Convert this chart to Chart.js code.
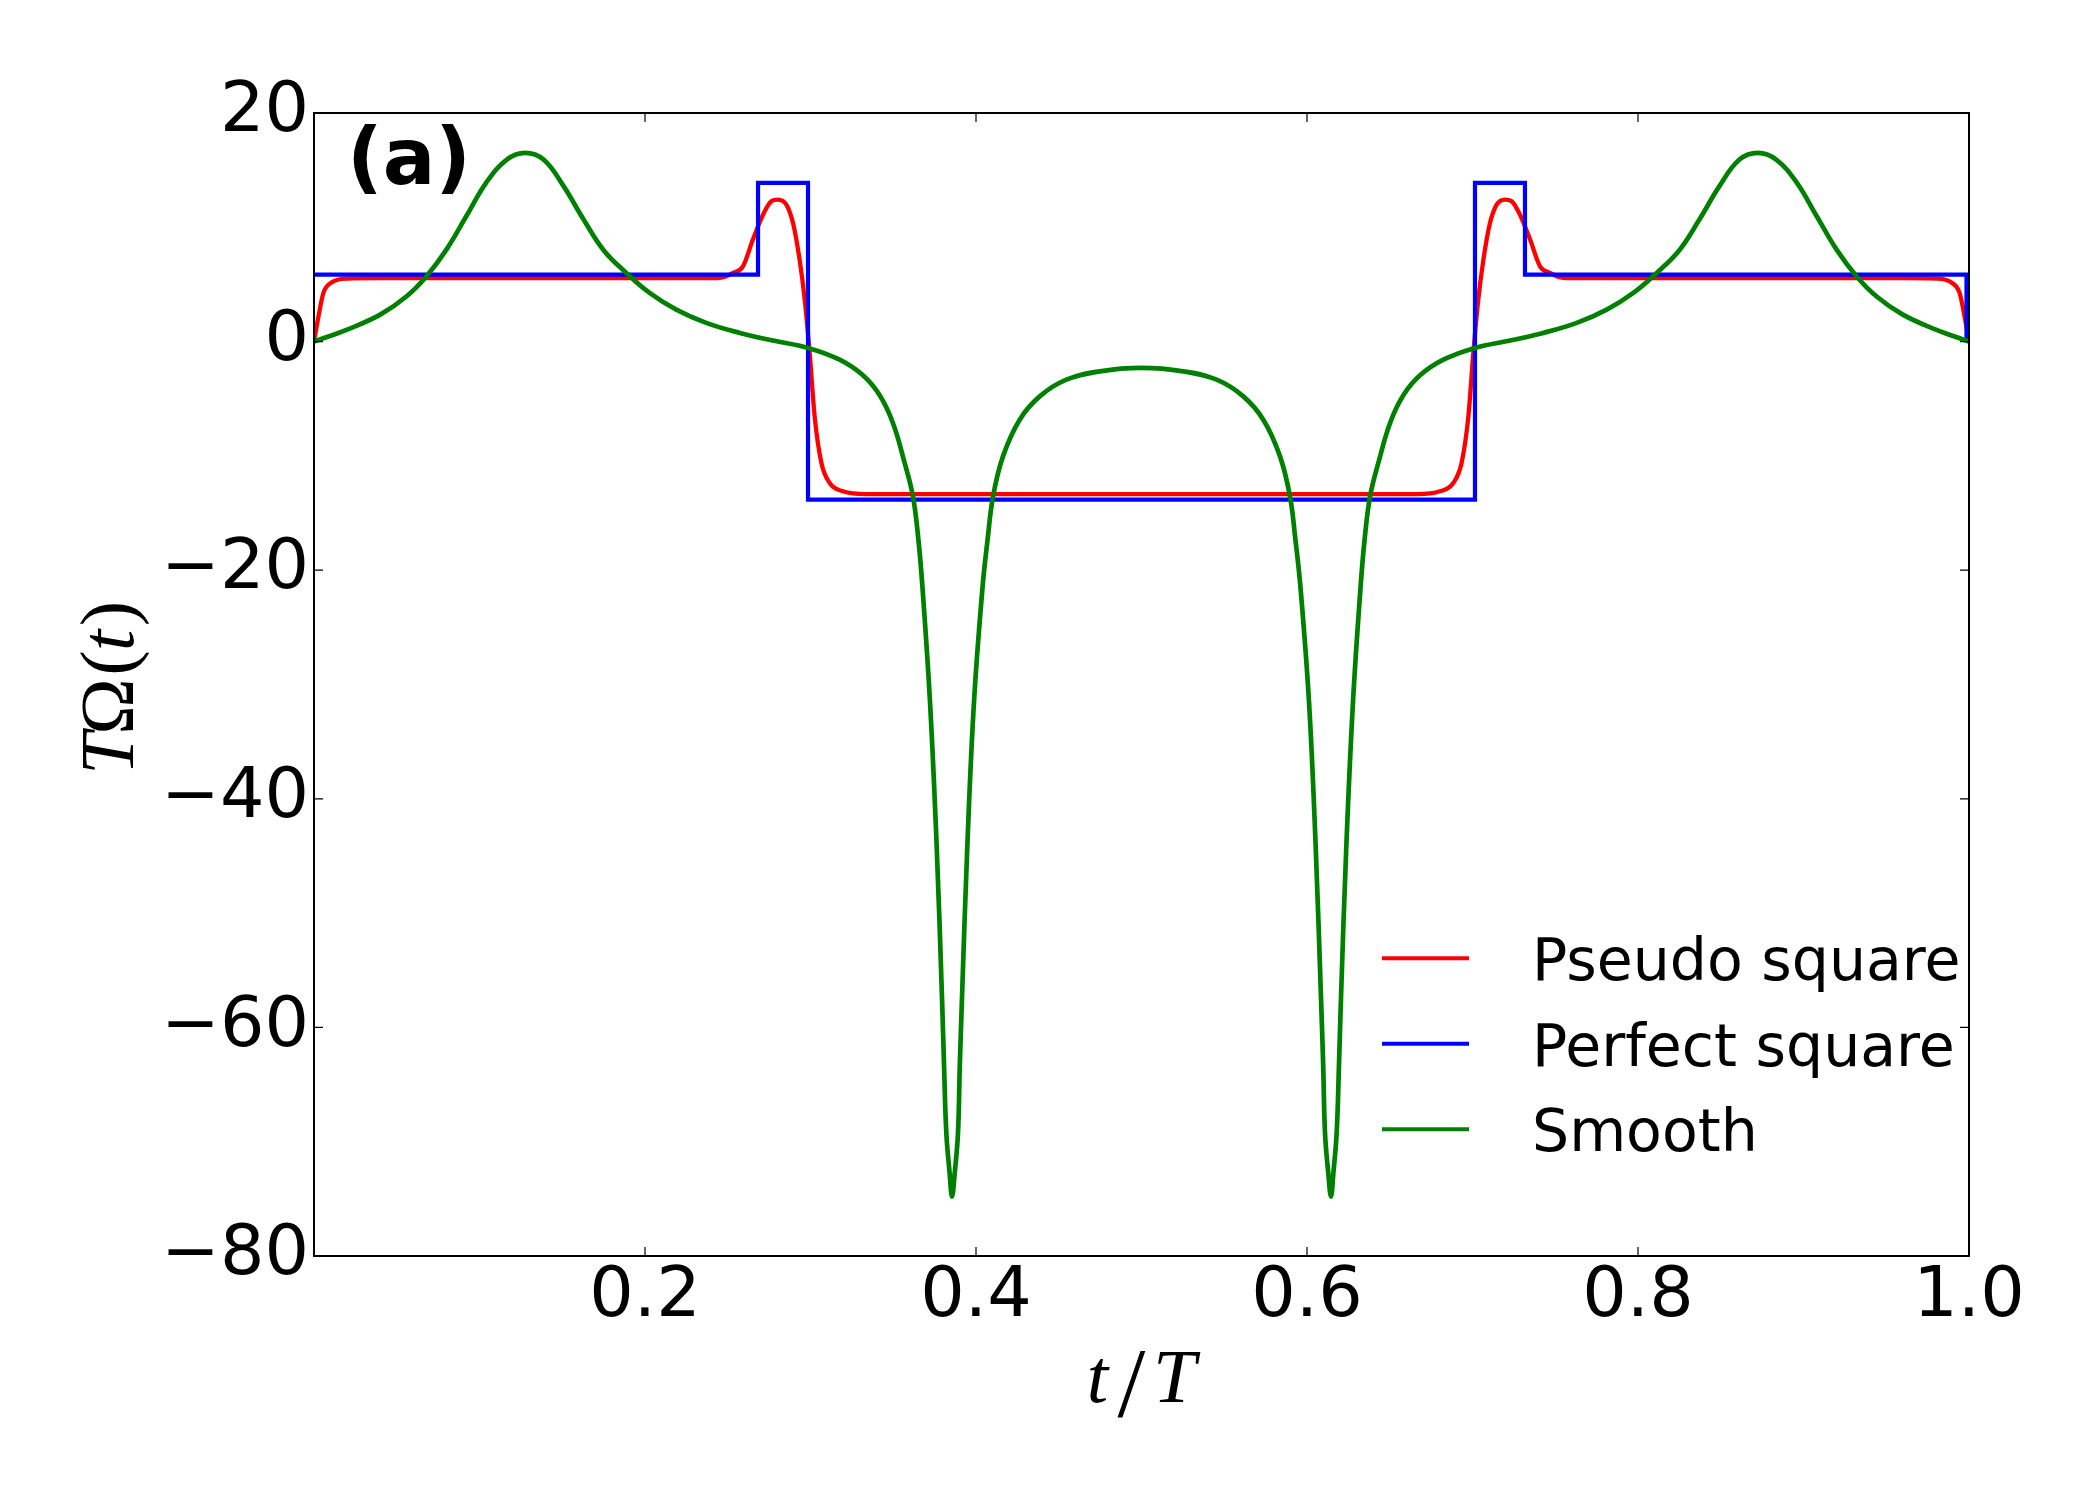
<!DOCTYPE html>
<html>
<head>
<meta charset="utf-8">
<script src="https://cdn.jsdelivr.net/npm/chart.js@4.4.1/dist/chart.umd.min.js"></script>
<style>
  html, body { margin: 0; padding: 0; background: #fff; }
</style>
</head>
<body>
<canvas id="pulseChart" width="2100" height="1500"></canvas>
<script>
// values, t/T on x, T*Omega(t) on y

// Smooth pulse
const smoothT = [0, 0.020, 0.040, 0.056, 0.068, 0.080, 0.092, 0.104, 0.1165, 0.1276, 0.1387, 0.1508, 0.1629, 0.175, 0.1887,
  0.2028, 0.2189, 0.237, 0.2572, 0.2773, 0.2985, 0.3176, 0.3317, 0.3418, 0.3498, 0.3569, 0.3619, 0.3652, 0.3676, 0.3722,
  0.3762, 0.3795, 0.3807, 0.3821, 0.3841, 0.3855, 0.3871, 0.3891, 0.3902, 0.3915, 0.3948, 0.3988, 0.4040, 0.4070, 0.4103,
  0.4163, 0.4264, 0.4385, 0.4546, 0.4748, 0.5,
  0.5252, 0.5454, 0.5615, 0.5736, 0.5837, 0.5897, 0.5930, 0.5960, 0.6012, 0.6052, 0.6085, 0.6098, 0.6109, 0.6129, 0.6145,
  0.6159, 0.6179, 0.6193, 0.6205, 0.6238, 0.6278, 0.6324, 0.6348, 0.6381, 0.6431, 0.6502, 0.6582, 0.6683, 0.6824, 0.7015,
  0.7227, 0.7428, 0.763, 0.7811, 0.7972, 0.8113, 0.825, 0.8371, 0.8492, 0.8613, 0.8724, 0.8835, 0.896, 0.908, 0.920,
  0.932, 0.944, 0.960, 0.980, 1.0];
const smoothV = [0, 1.05, 2.36, 3.97, 5.72, 8.05, 10.97, 13.89, 15.93, 16.52, 15.93, 13.6, 10.68, 8.0, 6.01,
  4.26, 2.80, 1.64, 0.76, 0.09, -0.55, -1.58, -2.95, -4.7, -7.12, -10.62, -13.54, -17.33, -21.4, -31.5,
  -44, -57.6, -63.4, -69.3, -72.8, -74.8, -72.8, -69.3, -63.4, -57.6, -44, -31.5, -21.4, -17.33, -13.54,
  -10.04, -6.83, -4.79, -3.33, -2.6, -2.3,
  -2.6, -3.33, -4.79, -6.83, -10.04, -13.54, -17.33, -21.4, -31.5, -44, -57.6, -63.4, -69.3, -72.8, -74.8,
  -72.8, -69.3, -63.4, -57.6, -44, -31.5, -21.4, -17.33, -13.54, -10.62, -7.12, -4.7, -2.95, -1.58, -0.55,
  0.09, 0.76, 1.64, 2.80, 4.26, 6.01, 8.0, 10.68, 13.6, 15.93, 16.52, 15.93, 13.89, 10.97, 8.05,
  5.72, 3.97, 2.36, 1.05, 0];

// Pseudo square pulse
const pseudoT = [0, 0.0027, 0.0057, 0.0108, 0.0198, 0.04, 0.24, 0.246, 0.2531, 0.2592, 0.2652, 0.2713, 0.2763, 0.2803,
  0.2854, 0.2894, 0.2934, 0.2965, 0.2995, 0.3025, 0.3066, 0.3116, 0.3196, 0.3337, 0.5,
  0.6663, 0.6804, 0.6884, 0.6934, 0.6975, 0.7005, 0.7035, 0.7066, 0.7106, 0.7146, 0.7197, 0.7237, 0.7287, 0.7348,
  0.7408, 0.7469, 0.754, 0.76, 0.96, 0.9802, 0.9892, 0.9943, 0.9973, 1.0];
const pseudoV = [0, 2.21, 4.26, 5.19, 5.51, 5.55, 5.55, 5.6, 6.0, 6.59, 8.93, 11.1, 12.28, 12.43,
  11.99, 10.39, 7.18, 3.68, -1.0, -6.54, -10.62, -12.37, -13.1, -13.35, -13.35,
  -13.35, -13.1, -12.37, -10.62, -6.54, -1.0, 3.68, 7.18, 10.39, 11.99, 12.43, 12.28, 11.1, 8.93,
  6.59, 6.0, 5.6, 5.55, 5.55, 5.51, 5.19, 4.26, 2.21, 0];

// Perfect square pulse
const squareT = [0, 0.2683, 0.2683, 0.2985, 0.2985, 0.7015, 0.7015, 0.7317, 0.7317, 0.9985, 0.9985];
const squareV = [5.86, 5.86, 13.89, 13.89, -13.83, -13.83, 13.89, 13.89, 5.86, 5.86, 0];

const xTicks = [0.2, 0.4, 0.6, 0.8, 1.0];
const yTicks = [20, 0, -20, -40, -60, -80];
const seriesNames = ['Pseudo square', 'Perfect square', 'Smooth'];
const seriesColors = ['#ff0000', '#0000ff', '#008000'];

function toPoints(ts, vs) {
  return ts.map((t, i) => ({ x: t, y: vs[i] }));
}

// box, inward ticks, legend, axis titles, panel tag
const framePlugin = {
  id: 'frame',
  afterDatasetsDraw(chart) {
    const { ctx, chartArea: a, scales: { x, y } } = chart;
    ctx.save();
    ctx.strokeStyle = '#000';
    ctx.lineWidth = 1.2;
    ctx.beginPath();
    x.ticks.forEach(t => {
      const px = x.getPixelForValue(t.value);
      ctx.moveTo(px, a.bottom); ctx.lineTo(px, a.bottom - 9);
      ctx.moveTo(px, a.top); ctx.lineTo(px, a.top + 9);
    });
    y.ticks.forEach(t => {
      const py = y.getPixelForValue(t.value);
      ctx.moveTo(a.left, py); ctx.lineTo(a.left + 9, py);
      ctx.moveTo(a.right, py); ctx.lineTo(a.right - 9, py);
    });
    ctx.stroke();
    ctx.lineWidth = 2;
    ctx.strokeRect(a.left, a.top, a.right - a.left, a.bottom - a.top);
    ctx.restore();
  },
  afterDraw(chart) {
    const { ctx, chartArea: a } = chart;
    ctx.save();
    ctx.fillStyle = '#000';

    // legend
    chart.data.datasets.forEach((ds, i) => {
      const ry = a.bottom - 297.7 + i * 85.5;
      ctx.strokeStyle = ds.borderColor;
      ctx.lineWidth = 4;
      ctx.beginPath();
      ctx.moveTo(a.right - 587, ry);
      ctx.lineTo(a.right - 500, ry);
      ctx.stroke();
      ctx.font = '58.5px "DejaVu Sans"';
      ctx.textAlign = 'left';
      ctx.textBaseline = 'alphabetic';
      ctx.fillText(ds.label, a.right - 437, ry + 22);
    });

    // panel tag
    ctx.font = 'bold 78px "DejaVu Sans"';
    ctx.textAlign = 'left';
    ctx.textBaseline = 'alphabetic';
    ctx.fillText('(a)', a.left + 33, a.top + 71);

    // x title: t/T
    const midX = (a.left + a.right) / 2;
    const xBase = a.bottom + 146;
    ctx.textAlign = 'center';
    ctx.font = 'italic 77px "Liberation Serif"';
    ctx.fillText('t', midX - 44, xBase);
    ctx.font = '100px "Liberation Serif"';
    ctx.fillText('/', midX - 10, xBase + 14);
    ctx.font = 'italic 77px "Liberation Serif"';
    ctx.fillText('T', midX + 33, xBase);

    // y title: TΩ(t)
    ctx.translate(a.left - 199.5, (a.top + a.bottom) / 2 + 4);
    ctx.rotate(-Math.PI / 2);
    const parts = [['T', 'italic ', -65], ['Ω', '', -18], ['(', '', 25.7], ['t', 'italic ', 48], [')', '', 75]];
    parts.forEach(([s, st, off]) => {
      ctx.font = st + '76px "Liberation Serif"';
      ctx.fillText(s, off, 18);
    });
    ctx.restore();
  }
};

Chart.defaults.font.family = '"DejaVu Sans"';
Chart.defaults.color = '#000';

new Chart(document.getElementById('pulseChart'), {
  type: 'line',
  data: {
    datasets: [
      { label: seriesNames[0], data: toPoints(pseudoT, pseudoV), borderColor: seriesColors[0],
        cubicInterpolationMode: 'monotone', borderWidth: 4.3, order: 3 },
      { label: seriesNames[1], data: toPoints(squareT, squareV), borderColor: seriesColors[1],
        tension: 0, borderJoinStyle: 'miter', borderWidth: 4.2, order: 2 },
      { label: seriesNames[2], data: toPoints(smoothT, smoothV), borderColor: seriesColors[2],
        tension: 0.4, borderWidth: 4.7, order: 1 }
    ]
  },
  options: {
    responsive: false,
    animation: false,
    layout: { padding: { left: 0, top: 113, right: 131, bottom: 0 } },
    elements: {
      point: { radius: 0 },
      line: { fill: false, borderJoinStyle: 'round', capBezierPoints: true }
    },
    plugins: { legend: { display: false }, tooltip: { enabled: false } },
    scales: {
      x: {
        type: 'linear', min: 0, max: 1,
        grid: { display: false, drawTicks: false },
        border: { display: false },
        afterBuildTicks: s => { s.ticks = xTicks.map(v => ({ value: v })); },
        afterFit: s => { s.height = 244; },
        ticks: {
          padding: 0, maxRotation: 0, autoSkip: false, color: '#000',
          font: { size: 70 },
          callback: v => Number(v).toFixed(1)
        }
      },
      y: {
        type: 'linear', min: -80, max: 20,
        grid: { display: false, drawTicks: false },
        border: { display: false },
        afterBuildTicks: s => { s.ticks = yTicks.map(v => ({ value: v })); },
        afterFit: s => { s.width = 314; },
        ticks: {
          padding: 5, autoSkip: false, color: '#000',
          font: { size: 70 },
          callback: v => (v < 0 ? '\u2212' + Math.abs(v) : String(v))
        }
      }
    }
  },
  plugins: [framePlugin]
});
</script>
</body>
</html>
